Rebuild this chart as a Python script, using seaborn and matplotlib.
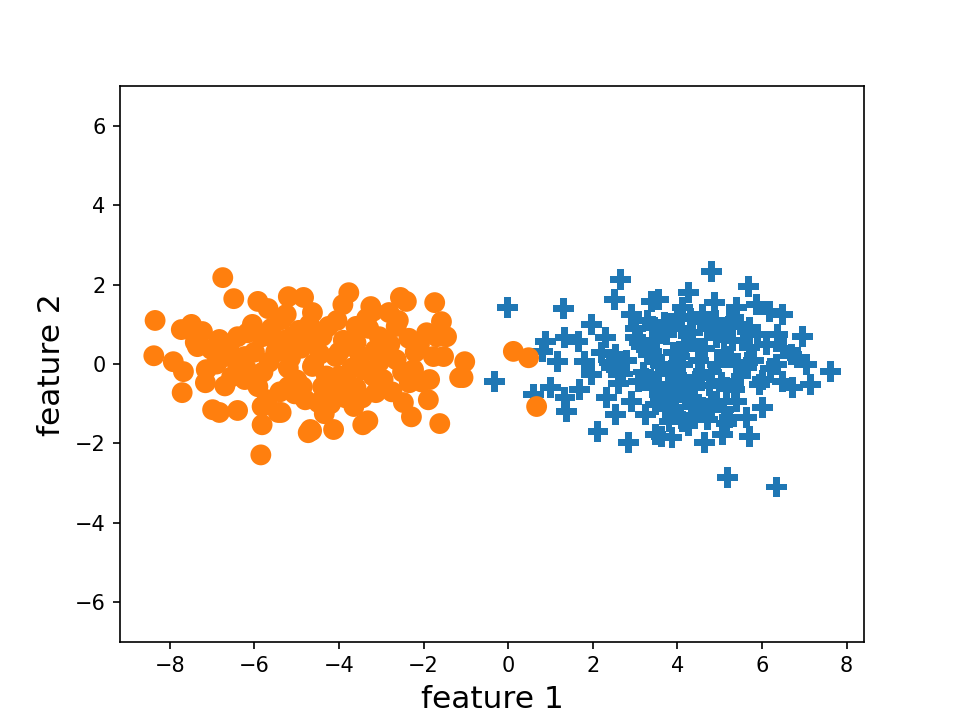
import numpy as np
import pandas as pd
import matplotlib
matplotlib.use("Agg")
import matplotlib.pyplot as plt
import seaborn as sns

# class 0 (blue plus markers)
blue_x = [-0.02, 1.31, 2.65, 2.51, -0.33, 0.60, 1.00, 1.38, 1.34, 1.69,
          2.12, 2.32, 2.53, 2.84, 0.88, 1.34, 1.17, 0.81, 1.96, 1.65,
          1.81, 1.96, 2.29, 2.53, 2.43, 2.91, 3.01, 3.08, 2.91, 3.39,
          3.32, 3.25, 3.48, 4.80, 5.68, 4.27, 4.87, 3.56, 4.11, 5.39,
          5.87, 6.18, 6.49, 6.37, 6.95, 5.70, 6.83, 7.06, 7.61, 7.14,
          6.73, 6.49, 6.35, 6.01, 5.63, 5.70, 5.23, 5.06, 4.63, 3.87,
          3.63, 4.11, 3.87, 5.18, 6.35, 4.92, 5.16, 5.94, 5.39, 5.70,
          4.92, 4.34, 3.79, 5.23, 4.58, 4.11, 4.58, 3.79, 3.48, 4.34,
          3.39, 3.60, 3.90, 4.20, 4.50, 4.80, 5.10, 4.00, 3.70, 4.40,
          5.00, 3.50, 3.20, 2.80, 4.70, 5.50, 5.30, 4.10, 3.00, 3.40,
          4.60, 5.80, 6.10, 6.00, 2.20, 2.60, 3.30,
          3.15, 3.45, 3.75, 4.05, 4.35, 4.65, 4.95, 5.25, 5.55, 3.25,
          3.55, 3.85, 4.15, 4.45, 4.75, 5.05, 5.35, 5.65, 3.10, 3.40,
          3.70, 4.00, 4.30, 4.60, 4.90, 5.20, 5.50, 3.60, 3.90, 4.20,
          4.50, 4.80, 5.10, 5.40, 3.80, 4.25, 4.70, 5.15, 2.70, 2.40,
          6.20, 6.50, 6.70, 5.90, 3.95, 4.40]
blue_y = [1.43, 1.40, 2.13, 1.63, -0.44, -0.77, -0.59, -1.20, -0.85, -0.64,
          -1.70, -0.85, -1.27, -1.98, 0.57, 0.67, 0.06, 0.32, 1.00, 0.57,
          0.06, -0.27, 0.67, 0.24, -0.09, 1.25, 0.67, -0.44, -0.95, 1.58,
          0.24, -1.27, -1.78, 2.34, 1.96, 1.81, 1.55, 1.63, 1.43, 1.43,
          1.50, 1.33, 1.25, 0.74, 0.69, 0.92, 0.16, -0.01, -0.19, -0.52,
          -0.59, -0.44, -0.01, -1.10, -1.35, -1.83, -1.35, -1.78, -1.98, -1.86,
          -1.83, -1.45, -1.27, -2.87, -3.10, -0.95, -0.59, -0.52, -0.01, 0.42,
          0.67, 0.57, 0.92, 1.07, 1.07, -0.01, -0.27, -0.59, -1.02, -0.85,
          0.32, 0.00, 0.30, 0.50, 0.10, -0.20, 0.30, -0.40, -0.70, -0.60,
          0.80, 0.60, -0.20, 0.10, 0.90, -0.30, 0.60, 0.90, 0.90, -0.60,
          -1.10, 0.10, 0.50, -0.40, 0.30, -0.50, 1.10,
          0.45, 0.15, 0.75, 0.20, 0.80, 0.40, 0.00, 0.20, 0.60, -0.35,
          -0.25, -0.15, -0.45, -0.35, -0.55, -0.45, -0.65, 0.05, 0.55, 0.95,
          1.05, 1.20, 1.15, 1.25, 1.10, 0.95, 1.00, -0.95, -1.10, -0.90,
          -1.20, -1.05, -1.15, -0.95, -1.45, -1.55, -1.40, -1.50, -0.25, 0.05,
          -0.10, 0.40, 0.25, 0.75, -0.75, -1.30]

# class 1 (orange circles)
orange_x = [-6.75, -8.38, -8.35, -6.49, -7.71, -5.85, -6.99, -6.40, -5.37, -4.65,
            -4.13, -3.32, -1.62, -1.89, -1.07, -1.03, -1.69, -1.74, -2.55, -3.77,
            -4.84, -5.20, -5.92, 0.12, 0.48, 0.67, -7.92, -7.68, -7.16, -7.73,
            -7.49, -7.23, -7.35, -7.02, -6.83, -6.78, -7.14, -5.68, -6.83, -6.54,
            -6.23, -5.92, -5.82, -5.82, -5.44, -6.40, -6.16, -5.82, -6.23, -5.35,
            -5.11, -5.20, -4.73, -3.91, -3.25, -2.41, -1.58, -1.46, -1.93, -1.77,
            -1.53, -1.15, -2.48, -2.29, -3.44, -4.68, -3.65, -4.49, -3.13, -2.34,
            -1.86, -2.24, -2.65, -3.20, -2.82, -3.60, -4.25, -4.63, -4.87, -4.08,
            -3.60, -3.05, -2.65, -2.96, -3.44, -3.84, -4.39, -4.87, -2.96, -4.15,
            -4.63, -4.56, -5.50, -5.20, -4.90, -4.60, -4.30, -4.00, -3.70, -5.80,
            -5.00, -4.40, -3.90, -3.50, -3.20, -2.80, -5.60, -5.30, -4.80, -4.20,
            -3.60, -6.00, -6.20, -5.40, -4.70, -3.30, -2.50, -2.20, -6.60, -6.90,
            -5.65, -5.15, -4.45, -3.75, -3.05, -2.35, -5.95, -5.05, -4.15, -3.45,
            -2.75, -6.45, -5.55, -4.95, -4.05, -3.35, -2.05, -6.05, -5.25, -4.35,
            -3.85, -2.60, -2.10, -7.40, -6.70, -5.70, -4.85, -4.00, -3.15]
orange_y = [2.18, 0.21, 1.10, 1.65, -0.72, -2.29, -1.15, -1.17, -1.22, -1.68,
            -1.65, -1.43, -1.50, -0.90, -0.34, 0.06, 0.69, 1.55, 1.68, 1.80,
            1.68, 1.70, 1.58, 0.32, 0.16, -1.07, 0.06, -0.19, -0.47, 0.87,
            1.00, 0.82, 0.44, 0.37, 0.62, 0.16, -0.14, 1.40, -1.22, -0.32,
            -0.39, -0.57, -1.07, -1.53, -1.22, 0.69, 0.79, 0.69, 0.19, 1.12,
            0.69, -0.57, -1.73, 1.50, 1.45, 1.58, 1.07, 0.69, 0.79, 0.19,
            0.19, -0.34, -0.97, -1.33, -1.53, -1.65, -1.07, -0.97, -0.72, -0.47,
            -0.39, -0.14, 0.11, 1.33, 1.30, 0.95, 0.95, 1.30, 0.79, 0.19,
            0.54, 0.69, 0.95, 0.19, -0.14, -0.39, -0.57, -0.57, -0.39, -0.64,
            -0.06, 0.54, 0.30, -0.10, 0.40, 0.00, -0.30, 0.30, -0.10, -0.20,
            -0.40, 0.70, 0.60, 0.20, -0.30, 0.50, 0.90, 0.60, -0.90, -1.00,
            -0.60, 0.30, -0.10, -0.70, 1.00, 0.90, -0.20, 0.30, 0.40, 0.00,
            0.05, 0.15, 0.25, 0.45, 0.05, 0.65, -0.45, -0.75, -0.65, -0.85,
            -0.70, 0.10, 0.65, 0.85, 1.10, 1.15, -0.45, 1.00, 1.25, -1.25,
            -0.85, 1.10, 0.50, 0.55, -0.55, -0.90, 0.55, -0.30, 0.35]

df = pd.DataFrame({
    "x": blue_x + orange_x,
    "y": blue_y + orange_y,
    "label": [0] * len(blue_x) + [1] * len(orange_x),
})

fig, ax = plt.subplots(figsize=(6.4, 4.807), dpi=150)

sns.scatterplot(data=df, x="x", y="y", hue="label", style="label",
                palette={0: "#1f77b4", 1: "#ff7f0e"},
                markers={0: "P", 1: "o"},
                s=100, linewidth=0, legend=False, ax=ax)

ax.set_ylim(-7, 7)
ax.set_xlabel("feature 1", fontsize=15)
ax.set_ylabel("feature 2", fontsize=15)

plt.savefig("out.png", dpi=150)
